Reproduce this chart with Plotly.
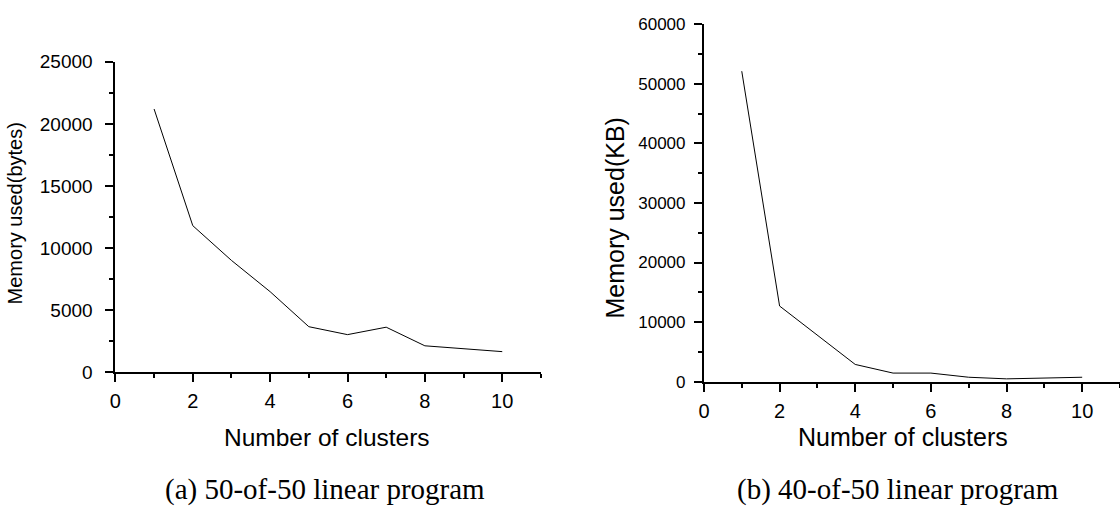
import plotly.graph_objects as go

# Data
clusters_a = [1, 2, 3, 4, 5, 6, 7, 8, 10]
memory_bytes_a = [21200, 11800, 9000, 6480, 3660, 3020, 3620, 2120, 1650]

clusters_b = [1, 2, 4, 5, 6, 7, 8, 10]
memory_kb_b = [52100, 12700, 2900, 1450, 1450, 750, 480, 750]

x_title = "Number of clusters"
y_title_a = "Memory used(bytes)"
y_title_b = "Memory used(KB)"
caption_a = "(a) 50-of-50 linear program"
caption_b = "(b) 40-of-50 linear program"

W, H = 1120, 522
SANS = "Liberation Sans, Arial, sans-serif"
SERIF = "Liberation Serif, Times New Roman, serif"

fig = go.Figure()
fig.add_trace(go.Scatter(x=clusters_a, y=memory_bytes_a, mode="lines",
                         line=dict(color="black", width=1), xaxis="x", yaxis="y",
                         showlegend=False))
fig.add_trace(go.Scatter(x=clusters_b, y=memory_kb_b, mode="lines",
                         line=dict(color="black", width=1), xaxis="x2", yaxis="y2",
                         showlegend=False))


def xaxis(domain, anchor, fs, standoff):
    return dict(domain=domain, anchor=anchor, range=[0, 11], dtick=2, tick0=0,
                showgrid=False, zeroline=False, showline=True, linecolor="black",
                linewidth=2, ticks="outside", ticklen=8, tickwidth=1.5, tickcolor="black",
                minor=dict(dtick=1, tick0=0, ticks="outside", ticklen=4, tickwidth=1.5,
                           tickcolor="black", showgrid=False),
                tickformat="d",
                tickfont=dict(family=SANS, size=fs, color="black"),
                ticklabelstandoff=standoff, fixedrange=True)


def yaxis(domain, anchor, top, major, fs, standoff):
    return dict(domain=domain, anchor=anchor, range=[0, top], dtick=major, tick0=0,
                showgrid=False, zeroline=False, showline=True, linecolor="black",
                linewidth=2, ticks="outside", ticklen=8, tickwidth=1.5, tickcolor="black",
                minor=dict(dtick=major / 2, tick0=0, ticks="outside", ticklen=4,
                           tickwidth=1.5, tickcolor="black", showgrid=False),
                tickformat="d",
                tickfont=dict(family=SANS, size=fs, color="black"),
                ticklabelstandoff=standoff, fixedrange=True)


fig.update_layout(
    width=W, height=H,
    margin=dict(l=0, r=0, t=0, b=0),
    paper_bgcolor="white", plot_bgcolor="white",
    xaxis=xaxis([110 / W, 537.8 / W], "y", 20, 2),
    yaxis=yaxis([1 - 377.3 / H, 1 - 54 / H], "x", 25000, 5000, 19, 9),
    xaxis2=xaxis([701.7 / W, 1.0], "y2", 20, 2),
    yaxis2=yaxis([1 - 387.3 / H, 1 - 14.7 / H], "x2", 60000, 10000, 17, 5),
)

ann = [
    dict(text=x_title, x=323 / W, y=1 - 445 / H, font=dict(family=SANS, size=24.5)),
    dict(text=x_title, x=902 / W, y=1 - 445 / H, font=dict(family=SANS, size=25)),
    dict(text=y_title_a, x=10 / W, y=1 - 212 / H, textangle=-90, font=dict(family=SANS, size=20)),
    dict(text=y_title_b, x=612 / W, y=1 - 216.5 / H, textangle=-90, font=dict(family=SANS, size=25)),
    dict(text=caption_a, x=321 / W, y=1 - 500 / H, font=dict(family=SERIF, size=29)),
    dict(text=caption_b, x=897 / W, y=1 - 500 / H, font=dict(family=SERIF, size=29)),
]
for a in ann:
    a.update(xref="paper", yref="paper", xanchor="center", yanchor="middle",
             showarrow=False)
    a["font"]["color"] = "black"
fig.update_layout(annotations=ann)

fig.write_html("out.html")
